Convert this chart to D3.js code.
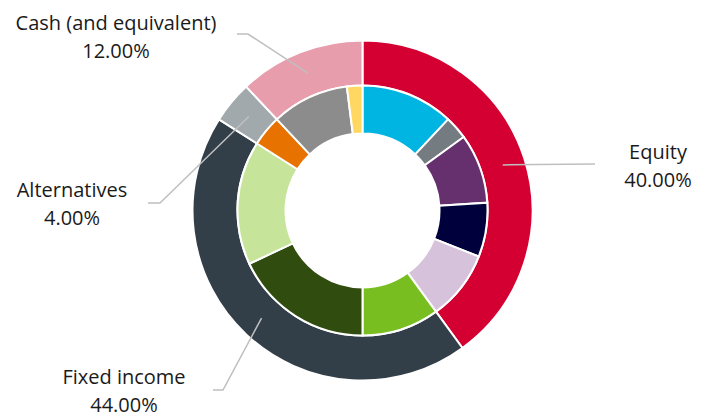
<!DOCTYPE html>
<html><head><meta charset="utf-8">
<script src="https://cdn.jsdelivr.net/npm/d3@7"></script>
<style>
html,body{margin:0;padding:0;background:#fff;}
svg{display:block;}
text{font-family:"Open Sans","Noto Sans",sans-serif;fill:#1a1a1a;}
</style></head>
<body>
<svg id="chart" width="710" height="416"></svg>
<script>
// Outer ring: asset classes
const outerLabels = ["Equity", "Fixed income", "Alternatives", "Cash (and equivalent)"];
const outerValues = [40, 44, 4, 12];
const outerColors = ["#d40032", "#323e48", "#a2a9ac", "#e89dac"];

// Inner ring: sub-categories (clockwise from top)
const innerValues = [12, 3, 9, 7, 9, 10, 18, 16, 4, 10, 2];
const innerColors = ["#00b5e2", "#747c82", "#66306e", "#00003c", "#d6c3db",
                     "#78be20", "#304d0f", "#c7e59a", "#e87200", "#8c8c8c", "#ffd761"];

// Label layout: text anchor point and leader elbow/end
const labelLayout = [
  {tx: 658, ty: 159, elbow: [595, 164], end: [595, 164]},
  {tx: 124, ty: 384, elbow: [223, 390], end: [213, 390]},
  {tx: 72,  ty: 197, elbow: [160, 203], end: [148, 203]},
  {tx: 116, ty: 30,  elbow: [248, 34],  end: [237, 34]}
];

const svg = d3.select("#chart");
const cx = 362.5, cy = 210.5;
const g = svg.append("g").attr("transform", `translate(${cx},${cy})`);

const pie = d3.pie().sort(null).value(d => d);
const outerArc = d3.arc().innerRadius(125).outerRadius(170);
const innerArc = d3.arc().innerRadius(77).outerRadius(125);

g.selectAll("path.outer").data(pie(outerValues)).join("path")
  .attr("class", "outer")
  .attr("d", outerArc)
  .attr("fill", (d, i) => outerColors[i])
  .attr("stroke", "#fff").attr("stroke-width", 2);

g.selectAll("path.inner").data(pie(innerValues)).join("path")
  .attr("class", "inner")
  .attr("d", innerArc)
  .attr("fill", (d, i) => innerColors[i])
  .attr("stroke", "#fff").attr("stroke-width", 2);

const fmt = d3.format(".2f");
const outerPie = pie(outerValues);
outerPie.forEach((d, i) => {
  const c = outerArc.centroid(d);
  const L = labelLayout[i];
  const pts = [[c[0] + cx, c[1] + cy], L.elbow, L.end];
  svg.append("path")
    .attr("d", d3.line()(pts))
    .attr("fill", "none").attr("stroke", "#bfbfbf").attr("stroke-width", 1.5);
  const t = svg.append("text").attr("text-anchor", "middle").attr("font-size", 20);
  t.append("tspan").attr("x", L.tx).attr("y", L.ty).text(outerLabels[i]);
  t.append("tspan").attr("x", L.tx).attr("y", L.ty + 28).text(fmt(outerValues[i]) + "%");
});
</script>
</body></html>
